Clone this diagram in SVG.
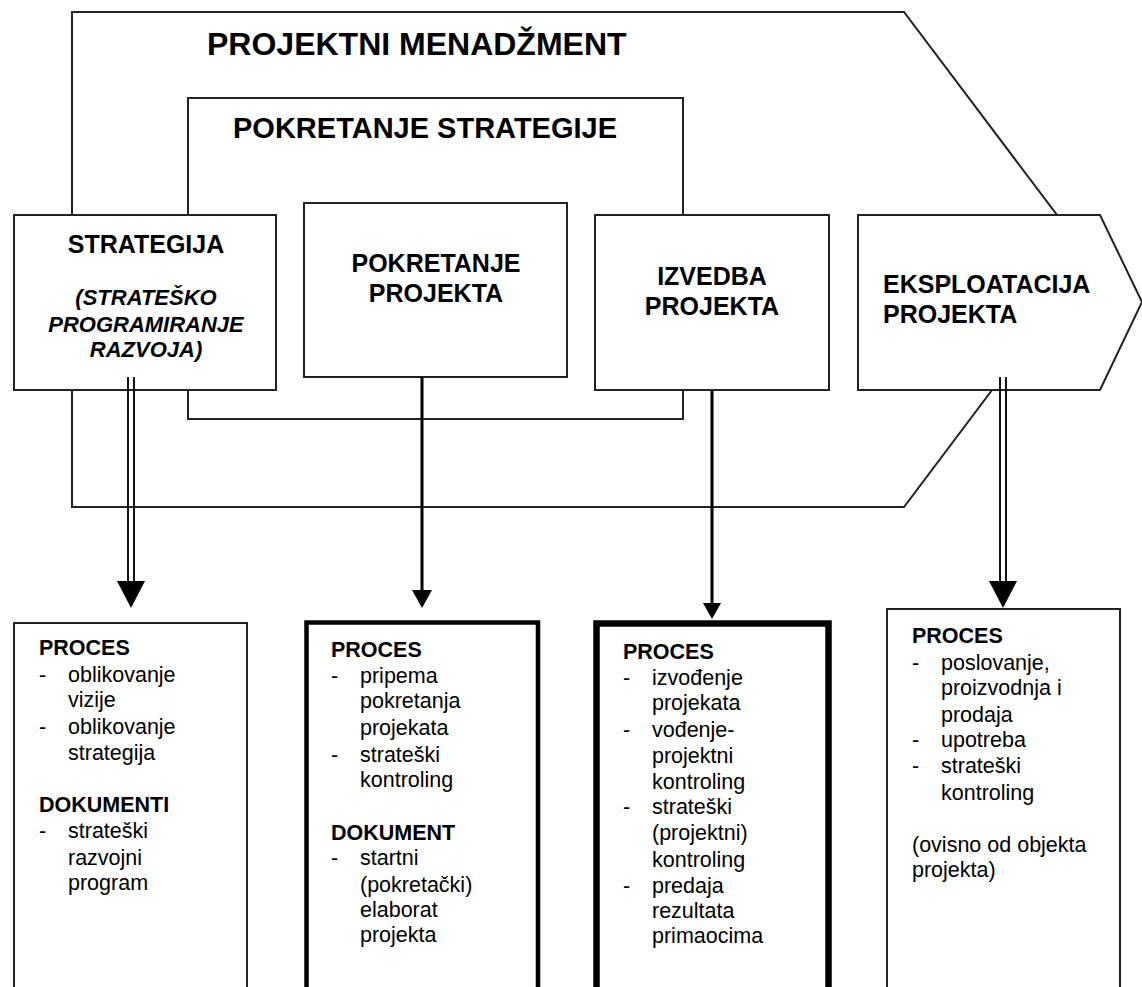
<svg xmlns="http://www.w3.org/2000/svg" width="1142" height="987" viewBox="0 0 1142 987">
<style>
.frame{fill:none;stroke:#222;stroke-width:2}
.box{fill:#fff;stroke:#222;stroke-width:2}
.t{font-family:"Liberation Sans",Arial,sans-serif;fill:#000}
.big{font-weight:bold;font-size:32px}
.mid{font-weight:bold;font-size:29px}
.bx{font-weight:bold;font-size:25px}
.it{font-weight:bold;font-style:italic;font-size:22px}
.s{font-size:21.5px}
.h{font-size:21.5px;font-weight:bold}
.ln{stroke:#000;stroke-width:3;fill:none}
.dl{stroke:#111;stroke-width:2;fill:none}
.ah{fill:#000}
</style>
<rect width="1142" height="987" fill="#fff"/>
<g id="projektni-menadzment">
<polygon class="frame" points="72,12 904,12 1057,215 992,390 904,507 72,507"/>
<text class="t big" x="207" y="55">PROJEKTNI MENADŽMENT</text>
</g>
<g id="pokretanje-strategije">
<rect class="frame" x="188" y="98" width="495" height="321"/>
<text class="t mid" x="233" y="138">POKRETANJE STRATEGIJE</text>
</g>
<g id="strategija">
<rect class="box" x="14" y="215" width="262" height="175"/>
<text class="t bx" x="146" y="253" text-anchor="middle">STRATEGIJA</text>
<text class="t it" x="146" y="305" text-anchor="middle">(STRATEŠKO</text>
<text class="t it" x="146" y="332" text-anchor="middle">PROGRAMIRANJE</text>
<text class="t it" x="146" y="357" text-anchor="middle">RAZVOJA)</text>
</g>
<g id="pokretanje-projekta">
<rect class="box" x="304" y="203" width="263" height="174"/>
<text class="t bx" x="436" y="272" text-anchor="middle">POKRETANJE</text>
<text class="t bx" x="436" y="302" text-anchor="middle">PROJEKTA</text>
</g>
<g id="izvedba-projekta">
<rect class="box" x="595" y="215" width="234" height="175"/>
<text class="t bx" x="712" y="285" text-anchor="middle">IZVEDBA</text>
<text class="t bx" x="712" y="315" text-anchor="middle">PROJEKTA</text>
</g>
<g id="eksploatacija-projekta">
<polygon class="box" points="858,215 1100,215 1142,302 1100,390 858,390"/>
<text class="t bx" x="883" y="293">EKSPLOATACIJA</text>
<text class="t bx" x="883" y="323">PROJEKTA</text>
</g>
<g id="connectors">
<line class="dl" x1="128" y1="377" x2="128" y2="583"/>
<line class="dl" x1="134" y1="377" x2="134" y2="583"/>
<polygon class="ah" points="117,581 145,581 131,608"/>
<line class="ln" x1="422" y1="377" x2="422" y2="592"/>
<polygon class="ah" points="412,590 432,590 422,608"/>
<line class="ln" x1="712" y1="390" x2="712" y2="605"/>
<polygon class="ah" points="703,603 721,603 712,619"/>
<line class="dl" x1="1000" y1="377" x2="1000" y2="583"/>
<line class="dl" x1="1006" y1="377" x2="1006" y2="583"/>
<polygon class="ah" points="989,581 1017,581 1003,608"/>
</g>
<g id="proces-strategija">
<rect class="box" x="14" y="623" width="233" height="380"/>
<text class="t h" x="39" y="655">PROCES</text>
<text class="t s" x="39" y="682">-</text><text class="t s" x="68" y="682">oblikovanje</text>
<text class="t s" x="68" y="707">vizije</text>
<text class="t s" x="39" y="734">-</text><text class="t s" x="68" y="734">oblikovanje</text>
<text class="t s" x="68" y="760">strategija</text>
<text class="t h" x="39" y="812">DOKUMENTI</text>
<text class="t s" x="39" y="838">-</text><text class="t s" x="68" y="838">strateški</text>
<text class="t s" x="68" y="865">razvojni</text>
<text class="t s" x="68" y="890">program</text>
</g>
<g id="proces-pokretanje">
<rect class="box" x="306.5" y="622.5" width="231.5" height="380" style="stroke-width:4.5;stroke:#000"/>
<text class="t h" x="331" y="657">PROCES</text>
<text class="t s" x="331" y="683">-</text><text class="t s" x="360" y="683">pripema</text>
<text class="t s" x="360" y="708">pokretanja</text>
<text class="t s" x="360" y="735">projekata</text>
<text class="t s" x="331" y="762">-</text><text class="t s" x="360" y="762">strateški</text>
<text class="t s" x="360" y="787">kontroling</text>
<text class="t h" x="331" y="840">DOKUMENT</text>
<text class="t s" x="331" y="865">-</text><text class="t s" x="360" y="865">startni</text>
<text class="t s" x="360" y="892">(pokretački)</text>
<text class="t s" x="360" y="917">elaborat</text>
<text class="t s" x="360" y="942">projekta</text>
</g>
<g id="proces-izvedba">
<rect class="box" x="596.5" y="623.5" width="232" height="380" style="stroke-width:6.5;stroke:#000"/>
<text class="t h" x="623" y="659">PROCES</text>
<text class="t s" x="623" y="685">-</text><text class="t s" x="652" y="685">izvođenje</text>
<text class="t s" x="652" y="710">projekata</text>
<text class="t s" x="623" y="737">-</text><text class="t s" x="652" y="737">vođenje-</text>
<text class="t s" x="652" y="763">projektni</text>
<text class="t s" x="652" y="789">kontroling</text>
<text class="t s" x="623" y="814">-</text><text class="t s" x="652" y="814">strateški</text>
<text class="t s" x="652" y="840">(projektni)</text>
<text class="t s" x="652" y="867">kontroling</text>
<text class="t s" x="623" y="893">-</text><text class="t s" x="652" y="893">predaja</text>
<text class="t s" x="652" y="918">rezultata</text>
<text class="t s" x="652" y="943">primaocima</text>
</g>
<g id="proces-eksploatacija">
<rect class="box" x="887" y="609" width="233" height="390"/>
<text class="t h" x="912" y="643">PROCES</text>
<text class="t s" x="912" y="670">-</text><text class="t s" x="941" y="670">poslovanje,</text>
<text class="t s" x="941" y="695">proizvodnja i</text>
<text class="t s" x="941" y="722">prodaja</text>
<text class="t s" x="912" y="747">-</text><text class="t s" x="941" y="747">upotreba</text>
<text class="t s" x="912" y="773">-</text><text class="t s" x="941" y="773">strateški</text>
<text class="t s" x="941" y="800">kontroling</text>
<text class="t s" x="912" y="852">(ovisno od objekta</text>
<text class="t s" x="912" y="877">projekta)</text>
</g>
</svg>
